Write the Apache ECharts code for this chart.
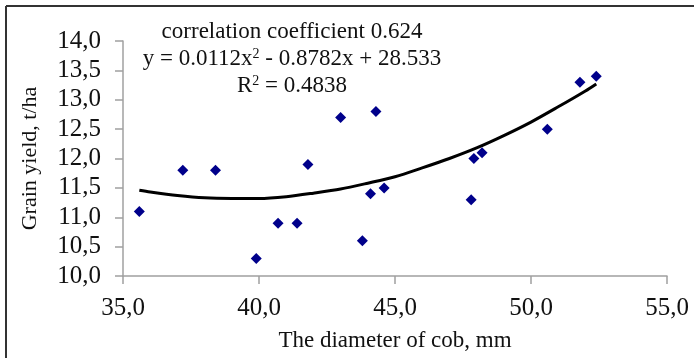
<!DOCTYPE html>
<html>
<head>
<meta charset="utf-8">
<script src="https://cdn.jsdelivr.net/npm/echarts@6/dist/echarts.min.js"></script>
<style>
html,body{margin:0;padding:0;background:#fff;}
#chart{width:694px;height:358px;}
</style>
</head>
<body>
<div id="chart"></div>
<script>
// Data
const diameter = [35.6, 37.2, 38.4, 39.9, 40.7, 41.4, 41.8, 43.0, 43.8, 44.1, 44.3, 44.6, 47.8, 47.9, 48.2, 50.6, 51.8, 52.4];
const grainYield = [11.1, 11.8, 11.8, 10.3, 10.9, 10.9, 11.9, 12.7, 10.6, 11.4, 12.8, 11.5, 11.3, 12.0, 12.1, 12.5, 13.3, 13.4];
// Trend curve as drawn in the picture
const trendX = [35.6, 36, 37, 38, 39, 40, 41, 42, 43, 44, 45, 46, 47, 48, 49, 50, 51, 52, 52.4];
const trendY = [11.46, 11.43, 11.37, 11.33, 11.32, 11.32, 11.35, 11.41, 11.48, 11.58, 11.69, 11.84, 12.00, 12.18, 12.39, 12.62, 12.88, 13.15, 13.27];
const xTicks = {min: 35, max: 55, step: 5};
const yTicks = {min: 10, max: 14, step: 0.5};
const annotation = ['correlation coefficient 0.624', 'y = 0.0112x{s|2} - 0.8782x + 28.533', 'R{s|2} = 0.4838'];

const font = 'Liberation Serif';
const fmt = v => v.toFixed(1).replace('.', ',');
const chart = echarts.init(document.getElementById('chart'), null, {renderer: 'canvas'});
chart.setOption({
  animation: false,
  backgroundColor: '#fff',
  grid: {left: 123, right: 27, top: 41, bottom: 82},
  xAxis: {
    type: 'value', min: xTicks.min, max: xTicks.max, interval: xTicks.step,
    name: 'The diameter of cob, mm', nameLocation: 'middle', nameGap: 53,
    nameTextStyle: {fontFamily: font, fontSize: 23, color: '#111'},
    axisLine: {lineStyle: {color: '#a0a0a0', width: 1.5}},
    axisTick: {lineStyle: {color: '#a0a0a0', width: 1.5}, length: 8},
    axisLabel: {fontFamily: font, fontSize: 25, color: '#111', margin: 20, formatter: fmt},
    splitLine: {show: false}
  },
  yAxis: {
    type: 'value', min: yTicks.min, max: yTicks.max, interval: yTicks.step,
    name: 'Grain yield, t/ha', nameLocation: 'middle', nameGap: 82,
    nameTextStyle: {fontFamily: font, fontSize: 22, color: '#111'},
    axisLine: {show: true, lineStyle: {color: '#a0a0a0', width: 1.5}},
    axisTick: {show: true, lineStyle: {color: '#a0a0a0', width: 1.5}, length: 8},
    axisLabel: {fontFamily: font, fontSize: 25, color: '#111', margin: 22, formatter: fmt},
    splitLine: {show: false}
  },
  series: [
    {
      type: 'line', data: trendX.map((x, i) => [x, trendY[i]]), smooth: 0.3,
      showSymbol: false, lineStyle: {color: '#000', width: 3}, z: 2
    },
    {
      type: 'scatter', data: diameter.map((x, i) => [x, grainYield[i]]),
      symbol: 'diamond', symbolSize: 11, itemStyle: {color: '#00008B', opacity: 1}, z: 3
    }
  ],
  graphic: [
    {type: 'line', shape: {x1: 6, y1: 6, x2: 694, y2: 6}, style: {stroke: '#333', lineWidth: 2}},
    {type: 'line', shape: {x1: 6, y1: 6, x2: 6, y2: 358}, style: {stroke: '#333', lineWidth: 2}},
    ...annotation.map((t, i) => ({
      type: 'text', x: 292, y: [32, 59, 86][i], z: 10,
      style: {
        text: t, align: 'center', verticalAlign: 'middle',
        fontFamily: font, fontSize: 23, fill: '#111',
        rich: {s: {fontSize: 14, verticalAlign: 'top', padding: [0, 0, 10, 0], fontFamily: font, fill: '#111'}}
      }
    }))
  ]
});
</script>
</body>
</html>
